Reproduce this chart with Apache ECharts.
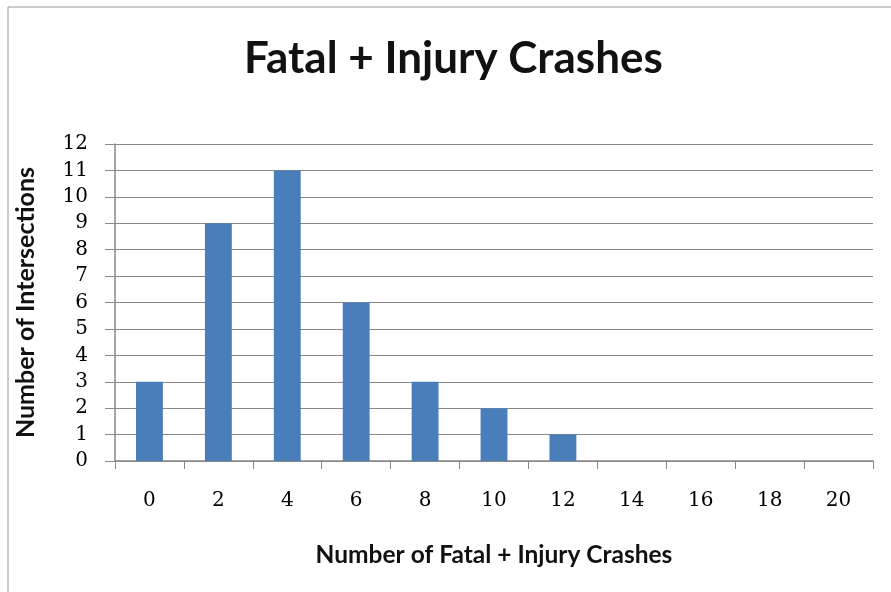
<!DOCTYPE html>
<html>
<head>
<meta charset="utf-8">
<script src="https://cdn.jsdelivr.net/npm/echarts@6/dist/echarts.min.js"></script>
<style>
  html, body { margin: 0; padding: 0; background: #fff; }
  #chart { width: 891px; height: 592px; }
</style>
</head>
<body>
<div id="chart"></div>
<script>
// crash counts (x categories) and how many intersections had that count
const crashCounts = ['0', '2', '4', '6', '8', '10', '12', '14', '16', '18', '20'];
const intersections = [3, 9, 11, 6, 3, 2, 1, 0, 0, 0, 0];
const yTicks = { min: 0, max: 12, interval: 1 };

const chart = echarts.init(document.getElementById('chart'));

const option = {
  animation: false,
  title: {
    text: 'Fatal + Injury Crashes',
    left: 239,
    top: 32,
    textStyle: { fontFamily: 'Lato', fontWeight: 'bold', fontSize: 44, color: '#111' }
  },
  graphic: [{
    type: 'rect',
    shape: { x: 8, y: 7, width: 900, height: 600 },
    style: { fill: 'none', stroke: '#9a9a9a', lineWidth: 1 }
  }],
  grid: { left: 115, right: 18, top: 144, bottom: 131 },
  xAxis: {
    type: 'category',
    data: crashCounts,
    name: 'Number of Fatal + Injury Crashes',
    nameLocation: 'middle',
    nameGap: 82,
    nameTextStyle: { fontFamily: 'Lato', fontWeight: 'bold', fontSize: 24.5, color: '#111' },
    axisLine: { lineStyle: { color: '#888', width: 1.5 } },
    axisTick: { show: true, length: 8, lineStyle: { color: '#888' } },
    axisLabel: { margin: 30, fontFamily: 'DejaVu Serif', fontSize: 20, color: '#000' }
  },
  yAxis: {
    type: 'value',
    min: yTicks.min,
    max: yTicks.max,
    interval: yTicks.interval,
    name: 'Number of Intersections',
    nameLocation: 'middle',
    nameGap: 77,
    nameTextStyle: { fontFamily: 'Lato', fontWeight: 'bold', fontSize: 25, color: '#111' },
    axisLine: { show: true, lineStyle: { color: '#888', width: 1.5 } },
    axisTick: { show: true, length: 10, lineStyle: { color: '#888' } },
    axisLabel: { margin: 27, fontFamily: 'DejaVu Serif', fontSize: 20, color: '#000' },
    splitLine: { lineStyle: { color: '#888', width: 1.2 } }
  },
  series: [{
    type: 'bar',
    data: intersections,
    barWidth: '39%',
    itemStyle: { color: '#4A7EBB' }
  }]
};

chart.setOption(option);
</script>
</body>
</html>
